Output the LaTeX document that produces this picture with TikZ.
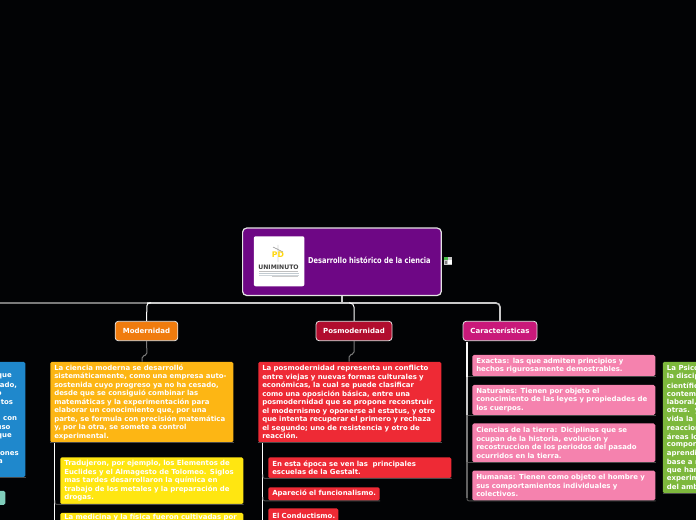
\documentclass[tikz,border=0pt]{standalone}
\usepackage{fontspec}
\setmainfont{DejaVu Sans}
\newfontfamily\titlefont{DejaVu Sans Condensed}
\usetikzlibrary{calc}
\definecolor{bgk}{HTML}{020305}
\definecolor{rootc}{HTML}{6E0785}
\definecolor{orgc}{HTML}{F07C0E}
\definecolor{crim}{HTML}{B10D2E}
\definecolor{mage}{HTML}{C9197A}
\definecolor{amb}{HTML}{FDB614}
\definecolor{yel}{HTML}{FFE611}
\definecolor{redc}{HTML}{EE2A35}
\definecolor{pnk}{HTML}{F582AE}
\definecolor{blu}{HTML}{1F88CC}
\definecolor{tea}{HTML}{7FCDBB}
\definecolor{grn}{HTML}{7DB83C}
\definecolor{brd}{HTML}{E4E4E4}
\definecolor{lng}{HTML}{C8C8C8}
\definecolor{lnd}{HTML}{7A7A7A}
\definecolor{und}{HTML}{4A4A4A}
\tikzset{
  x=0.75pt,y=-0.75pt,
  leaf/.style={anchor=north west,rounded corners=1.2pt,inner xsep=3pt,inner ysep=1pt,
    align=left,text=white,font=\fontsize{5.22}{6.375}\selectfont\bfseries},
  topic/.style={anchor=center,draw=brd,line width=0.6pt,rounded corners=2.4pt,text=white,
    inner sep=0pt,font=\fontsize{5.25}{6}\selectfont\bfseries},
  under/.style={draw=und,line width=0.75pt,rounded corners=1.5pt},
  conn/.style={line width=0.75pt,rounded corners=1.5pt},
  cut/.style={anchor=east,inner sep=0pt,text=white,font=\fontsize{5.22}{6}\selectfont\bfseries},
  cutl/.style={anchor=west,inner sep=0pt,text=white,font=\fontsize{5.22}{6}\selectfont\bfseries}
}
\begin{document}
\begin{tikzpicture}
\useasboundingbox (0,0) rectangle (696,520);
\clip (0,0) rectangle (696,520);
\fill[bgk] (0,0) rectangle (696,520);

% root
\node[anchor=north west,draw=brd,fill=rootc,line width=0.9pt,rounded corners=3pt,
  minimum width=149pt,minimum height=50.5pt,inner sep=0pt] (root) at (242,227.5) {};
\node[anchor=north west,fill=white,rounded corners=1.5pt,minimum width=38pt,minimum height=37.5pt,inner sep=0pt] (logo) at (253.5,236) {};
\draw[black!45,line width=0.35pt] (278,245) -- (278,262) (273,247) -- (283,252);
\node[inner sep=0pt,text=yel!85!orange,font=\fontsize{5.8}{6}\selectfont\bfseries] (pd) at (278,254.5) {PD};
\node[inner sep=0pt,text=black!75,font=\fontsize{4.6}{4}\selectfont\bfseries] (uni) at (278.5,267) {UNIMINUTO};
\fill[black!25] (259,270.6) rectangle (298,271.2);
\fill[blu!35!black!25] (258.5,272.8) rectangle (298.5,273.6);
\fill[blu!35!black!20] (258.5,274.6) rectangle (298.5,275.4);
\fill[black!20] (272,276.4) rectangle (298,277);
\node[anchor=west,inner sep=0pt,text=white,xscale=0.905,transform shape,font=\fontsize{6.1}{7}\titlefont\bfseries] (title) at (308,260.7) {Desarrollo histórico de la ciencia};
% small icon
\node[anchor=north west,fill=lng,minimum width=6.6pt,minimum height=6.3pt,inner sep=0pt] (ico) at (443.3,256.8) {};
\fill[green!45!gray] (444,257.5) rectangle (447.5,260.5);
\fill[white] (447.5,260.5) rectangle (451.5,264.5);
\fill[gray] (445,261) rectangle (447,264);

% topics
\node[topic,fill=orgc,minimum width=47pt,minimum height=14.6pt] (mod) at (146.5,331) {Modernidad};
\node[topic,fill=crim,minimum width=57pt,minimum height=14.6pt] (pos) at (354,331) {Posmodernidad};
\node[topic,fill=mage,minimum width=55.5pt,minimum height=14.6pt] (car) at (500,331) {Características};

% main connectors
\draw[lng,line width=2pt] (root.south -| 342,0) -- (342,303);
\draw[lnd,line width=1.2pt] (0,303) -- (147,303);
\draw[lng,line width=1.2pt,rounded corners=3pt] (147,303) -- (500,303) -- (car.north);
\draw[white,line width=0.75pt,rounded corners=3pt] (349,303) -- (354,303) -- (pos.north);
\draw[white,line width=0.75pt,rounded corners=2pt] (151,303) -- (147,303) -- (mod.north);

% left cut boxes
\node[anchor=north west,fill=blu,rounded corners=1.2pt,minimum width=30pt,minimum height=86.5pt,inner sep=0pt] (blue) at (-15,361.5) {};
\node[anchor=north west,fill=tea,rounded corners=1.2pt,minimum width=12pt,minimum height=10.6pt,inner sep=0pt] (teal) at (-11,490.5) {};
\draw[und,line width=0.75pt] (blue.south west) -- (blue.south east);
\foreach \nm/\tx/\rx/\ly in {a/que/12/376.7,b/lado{,}/17.3/385.6,c/o/1.8/393.5,d/tos/13.3/402.3,e/{, con}/17.3/419.5,f/uso/10.7/427.7,g/que/12/436.3,h/ones/19/453.5,i/a/3/462}
  \node[cut] (bl\nm) at (\rx,\ly) {\tx};

% Modernidad branch
\node[leaf,fill=amb,text width=131.25pt,minimum height=60.5pt] (ma) at (50,361.5) {La ciencia moderna se desarrolló\\sistemáticamente, como una empresa auto-\\sostenida cuyo progreso ya no ha cesado,\\desde que se consiguió combinar las\\matemáticas y la experimentación para\\elaborar un conocimiento que, por una\\parte, se formula con precisión matemática\\y, por la otra, se somete a control\\experimental.};
\node[leaf,fill=yel,text width=131.25pt,minimum height=35.2pt] (m1) at (60,457) {Tradujeron, por ejemplo, los Elementos de\\Euclides y el Almagesto de Tolomeo. Siglos\\mas tardes desarrollaron la química en\\trabajo de los metales y la preparación de\\drogas.};
\node[leaf,fill=yel,text width=131.25pt] (m2) at (60,512.5) {La medicina y la física fueron cultivadas por\\\phantom{x}\\\phantom{x}};
\draw[conn,draw=lnd] (mod.south) -- (147,355) -- (142,356) -- (142,361.5);
\draw[under] (ma.south west) -- (ma.south east);
\draw[white,line width=0.8pt] (54.5,442.5) -- (54.5,520);
\draw[under] (m1.south east) -- ($(m1.south west)+(-5,0)$) -- ++(0,-4);

% Posmodernidad branch
\node[leaf,fill=redc,text width=131.25pt,minimum height=60.5pt] (pa) at (258,361.5) {La posmodernidad representa un conflicto\\entre viejas y nuevas formas culturales y\\económicas, la cual se puede clasificar\\como una oposición básica, entre una\\posmodernidad que se propone reconstruir\\el modernismo y oponerse al estatus, y otro\\que intenta recuperar el primero y rechaza\\el segundo; uno de resistencia y otro de\\reacción.};
\node[leaf,fill=redc,text width=131.25pt,minimum height=15.7pt] (p1) at (268,457) {En esta época se ven las\ \ principales\\escuelas de la Gestalt.};
\node[leaf,fill=redc,text width=77.6pt,minimum height=10pt] (p2) at (268,487) {\mbox{Apareció el funcionalismo.}};
\node[leaf,fill=redc,text width=46.5pt,minimum height=11pt] (p3) at (268,508) {\mbox{El Conductismo.}};
\draw[conn,draw=lnd] (pos.south) -- (354,354) -- (349,355) -- (349,361.5);
\draw[under] (pa.south west) -- (pa.south east);
\draw[white,line width=0.8pt] (262.5,442.5) -- (262.5,520);
\draw[under] (p1.south east) -- ($(p1.south west)+(-5,0)$) -- ++(0,-4);
\draw[under] (p2.south east) -- ($(p2.south west)+(-5,0)$) -- ++(0,-4);

% Caracteristicas branch
\node[leaf,fill=pnk,text width=131.25pt,minimum height=16pt] (c1) at (472,354.7) {Exactas: las que admiten principios y\\hechos rigurosamente demostrables.};
\node[leaf,fill=pnk,text width=131.25pt,minimum height=22.5pt] (c2) at (472,384.7) {Naturales: Tienen por objeto el\\conocimiento de las leyes y propiedades de\\los cuerpos.};
\node[leaf,fill=pnk,text width=131.25pt,minimum height=29pt] (c3) at (472,423.2) {Ciencias de la tierra: Diciplinas que se\\ocupan de la historia, evolucion y\\recostruccion de los periodos del pasado\\ocurridos en la tierra.};
\node[leaf,fill=pnk,text width=131.25pt,minimum height=22.5pt] (c4) at (472,470.3) {Humanas: Tienen como objeto el hombre y\\sus comportamientos individuales y\\colectivos.};
\coordinate (tk) at (467,341.5);
\draw[under] (c1.south east) -- ($(c1.south west)+(-5,0)$);
\draw[under] (c2.south east) -- ($(c2.south west)+(-5,0)$);
\draw[under] (c3.south east) -- ($(c3.south west)+(-5,0)$);
\draw[under] (c4.south east) -- ($(c4.south west)+(-5,0)$) -- ++(0,-4);
\draw[draw=white!90!lng,line width=0.8pt] (tk) -- ($(c1.south west)+(-5,0)$);
\draw[draw=lng,line width=0.8pt] ($(c1.south west)+(-5,0)$) -- ($(c2.south west)+(-5,0)$);
\draw[draw=lnd,line width=0.8pt] ($(c2.south west)+(-5,0)$) -- ($(c3.south west)+(-5,0)$);
\draw[draw=lnd!80!black,line width=0.8pt] ($(c3.south west)+(-5,0)$) -- ($(c4.south west)+(-5,-3)$);

% right cut box
\node[anchor=north west,fill=grn,rounded corners=1.2pt,minimum width=40pt,minimum height=98.6pt,inner sep=0pt] (green) at (662.5,361.5) {};
\draw[und,line width=0.75pt] (green.south west) -- (green.south east);
\foreach \nm/\tx/\ly in {a/La Psico/368.4,b/la discip/376.8,c/científic/385.4,d/contem/393.8,e/laboral{,}/402.4,f/otras.\ \ y/410.8,g/vida la p/419.4,h/reaccion/427.8,i/áreas lo/436.4,j/compor/444.8,k/aprendi/453.4,l/base a r/461.8,m/que han/470.4,n/experim/478.8,o/del amb/487.4}
  \node[cutl] (gr\nm) at (666.7,\ly) {\tx};
\end{tikzpicture}
\end{document}
